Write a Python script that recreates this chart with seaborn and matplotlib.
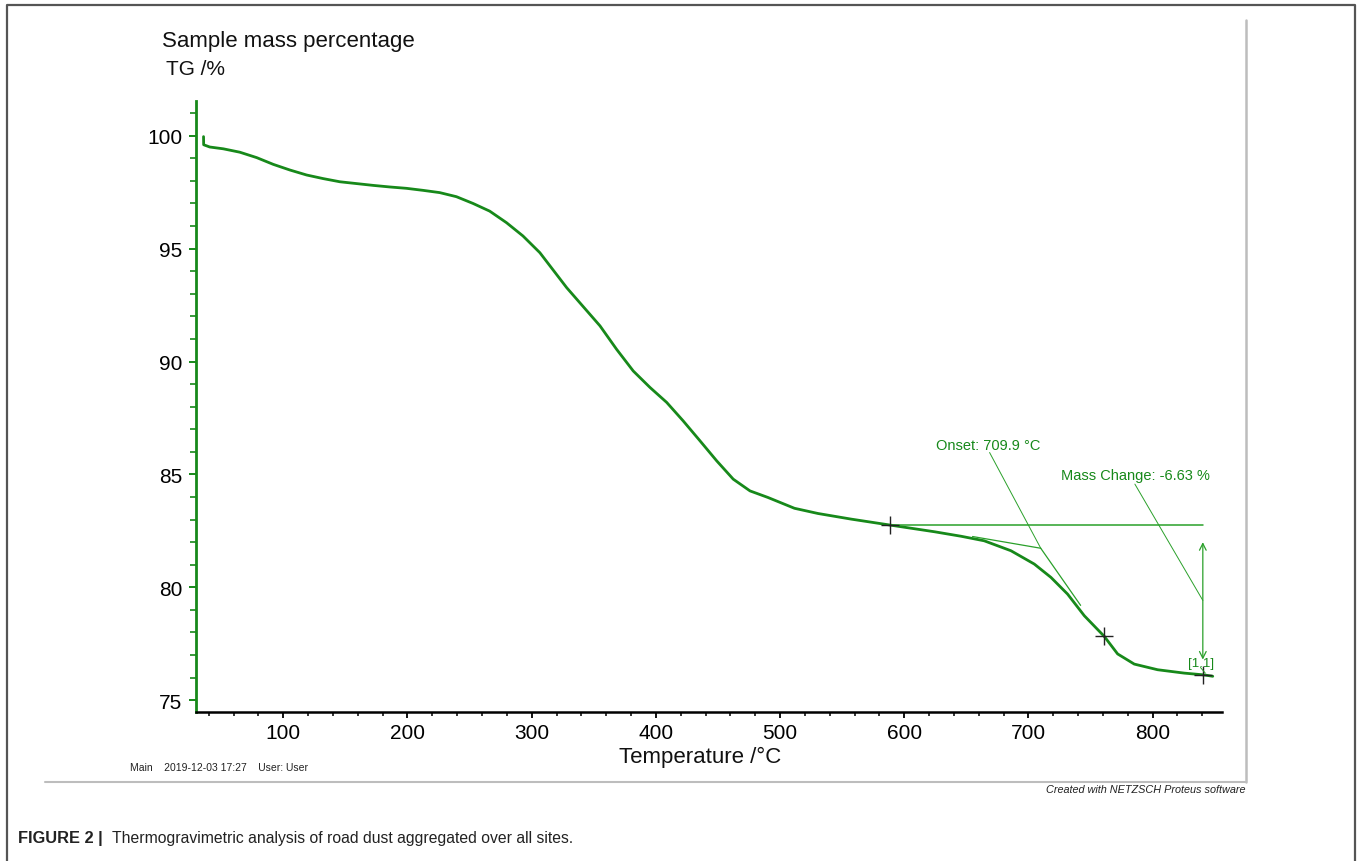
import numpy as np
import pandas as pd
import matplotlib
matplotlib.use("Agg")
import matplotlib.pyplot as plt
from matplotlib.ticker import MultipleLocator
from matplotlib.lines import Line2D
import seaborn as sns

# TG curve: temperature (°C) and remaining sample mass (%)
temperature = [35.8, 35.9, 40.8, 51.7, 65.0, 78.6, 92.0, 105.4, 118.8, 132.2,
               145.6, 159.0, 172.4, 185.8, 199.2, 212.6, 226.0, 239.4, 252.8,
               266.2, 279.7, 293.0, 306.6, 328.2, 355.0, 368.4, 381.8, 395.3,
               408.7, 422.0, 435.5, 449.0, 462.3, 475.8, 490.2, 511.6, 530.5,
               557.3, 588.2, 624.4, 645.9, 664.4, 685.9, 704.7, 718.1, 731.5,
               745.0, 761.0, 771.8, 785.2, 804.0, 825.5, 841.6, 848.4]
mass = [99.96, 99.60, 99.50, 99.42, 99.27, 99.03, 98.73, 98.48, 98.26, 98.10,
        97.96, 97.88, 97.80, 97.73, 97.67, 97.58, 97.48, 97.30, 97.00,
        96.66, 96.15, 95.56, 94.82, 93.27, 91.58, 90.54, 89.58, 88.85,
        88.19, 87.37, 86.49, 85.60, 84.79, 84.27, 83.98, 83.50, 83.27,
        83.02, 82.76, 82.46, 82.26, 82.06, 81.62, 81.03, 80.44, 79.70,
        78.74, 77.83, 77.05, 76.60, 76.35, 76.20, 76.12, 76.06]

x_ticks = [100, 200, 300, 400, 500, 600, 700, 800]
y_ticks = [75, 80, 85, 90, 95, 100]

# Evaluation results
onset_temp = 709.9
onset_mass = 81.73
step_start = (588.2, 82.76)
step_end = (840.4, 76.13)
inflection = (761.0, 77.83)
mass_change = round(step_end[1] - step_start[1], 2)

sns.set_theme(style="white")
plt.rcParams["font.family"] = ["Liberation Sans", "DejaVu Sans"]

GREEN = "#17891a"
LIGHT_GREEN = "#2aa02a"

fig = plt.figure(figsize=(13.58, 8.62), dpi=100)
ax = fig.add_axes([0.1443, 0.1729, 0.7557, 0.7091])

df = pd.DataFrame({"Temperature": temperature, "TG": mass})
sns.lineplot(data=df, x="Temperature", y="TG", sort=False, estimator=None,
             color=GREEN, lw=2.0, ax=ax)

ax.set_xlim(29.7, 856)
ax.set_ylim(74.48, 101.55)
ax.set_xticks(x_ticks)
ax.set_yticks(y_ticks)
ax.xaxis.set_minor_locator(MultipleLocator(20))
ax.yaxis.set_minor_locator(MultipleLocator(1))
ax.set_xlabel("")
ax.set_ylabel("")

for side in ("top", "right"):
    ax.spines[side].set_visible(False)
ax.spines["left"].set_color(GREEN)
ax.spines["left"].set_linewidth(2.0)
ax.spines["bottom"].set_color("black")
ax.spines["bottom"].set_linewidth(1.8)

ax.tick_params(axis="y", which="major", direction="out", length=5, width=1.4,
               color=GREEN, labelsize=15, labelcolor="black", pad=5, left=True)
ax.tick_params(axis="y", which="minor", direction="out", length=4, width=1.2,
               color=GREEN, left=True)
ax.tick_params(axis="x", which="major", direction="out", length=4, width=1.3,
               color="black", labelsize=15, labelcolor="black", pad=4, bottom=True)
ax.tick_params(axis="x", which="minor", direction="out", length=3, width=1.1,
               color="black", bottom=True)

# Step evaluation construction lines
ax.plot([step_start[0], step_end[0]], [step_start[1], step_start[1]],
        color=LIGHT_GREEN, lw=1.1)
ax.plot([655, onset_temp], [82.25, onset_mass], color=LIGHT_GREEN, lw=0.9)
ax.plot([onset_temp, 742], [onset_mass, 79.2], color=LIGHT_GREEN, lw=0.9)
ax.annotate("", xy=(step_end[0], 76.8), xytext=(step_end[0], 82.0),
            arrowprops=dict(arrowstyle="<->", color=LIGHT_GREEN, lw=0.9,
                            mutation_scale=12, shrinkA=0, shrinkB=0))

# Markers at evaluation points
for px, py in (step_start, inflection, step_end):
    ax.plot(px, py, marker="+", ms=13, mew=1.0, color="#222222")

# Labels with leader lines
ax.plot([668.7, onset_temp], [85.97, onset_mass], color=LIGHT_GREEN, lw=0.7)
ax.text(625.5, 86.3, f"Onset: {onset_temp} °C", color=GREEN, fontsize=10.5,
        ha="left", va="center")
ax.plot([785.7, step_end[0]], [84.57, 79.42], color=LIGHT_GREEN, lw=0.7)
ax.text(725.9, 84.98, f"Mass Change: {mass_change} %", color=GREEN,
        fontsize=10.5, ha="left", va="center")
ax.text(828.4, 76.63, "[1.1]", color=GREEN, fontsize=9.5, ha="left", va="center")
ax.plot([838.5, step_end[0] + 2], [76.45, 76.2], color=LIGHT_GREEN, lw=0.7)

# Titles and axis labels
fig.text(0.1193, 0.9513, "Sample mass percentage", fontsize=16, ha="left",
         va="center", color="#111111")
fig.text(0.1222, 0.9188, "TG /%", fontsize=15, ha="left", va="center",
         color="#111111")
fig.text(0.5155, 0.1215, "Temperature /°C", fontsize=16, ha="center",
         va="center", color="#111111")

# Software footer
fig.text(0.0957, 0.109, "Main    2019-12-03 17:27    User: User", fontsize=7.5,
         ha="left", va="center", color="#222222")
fig.text(0.9168, 0.0835, "Created with NETZSCH Proteus software", fontsize=7.8,
         ha="right", va="center", style="italic", color="#222222")

# Frames
fig.add_artist(Line2D([0.9175, 0.9175], [0.9756, 0.0916], transform=fig.transFigure,
                      color="#bdbdbd", lw=1.8))
fig.add_artist(Line2D([0.0331, 0.9175], [0.0916, 0.0916], transform=fig.transFigure,
                      color="#bdbdbd", lw=1.5))
fig.add_artist(Line2D([0.00515, 0.00515, 0.9978, 0.9978], [-0.01, 0.993, 0.993, -0.01],
                      transform=fig.transFigure, color="#555555", lw=1.6))

# Caption
fig.text(0.0133, 0.0278, "FIGURE 2 |", fontsize=11.8, fontweight="bold",
         ha="left", va="center", color="#222222")
fig.text(0.0825, 0.0278,
         "Thermogravimetric analysis of road dust aggregated over all sites.",
         fontsize=11.3, ha="left", va="center", color="#222222")

fig.savefig("out.png", dpi=100, facecolor="white")
